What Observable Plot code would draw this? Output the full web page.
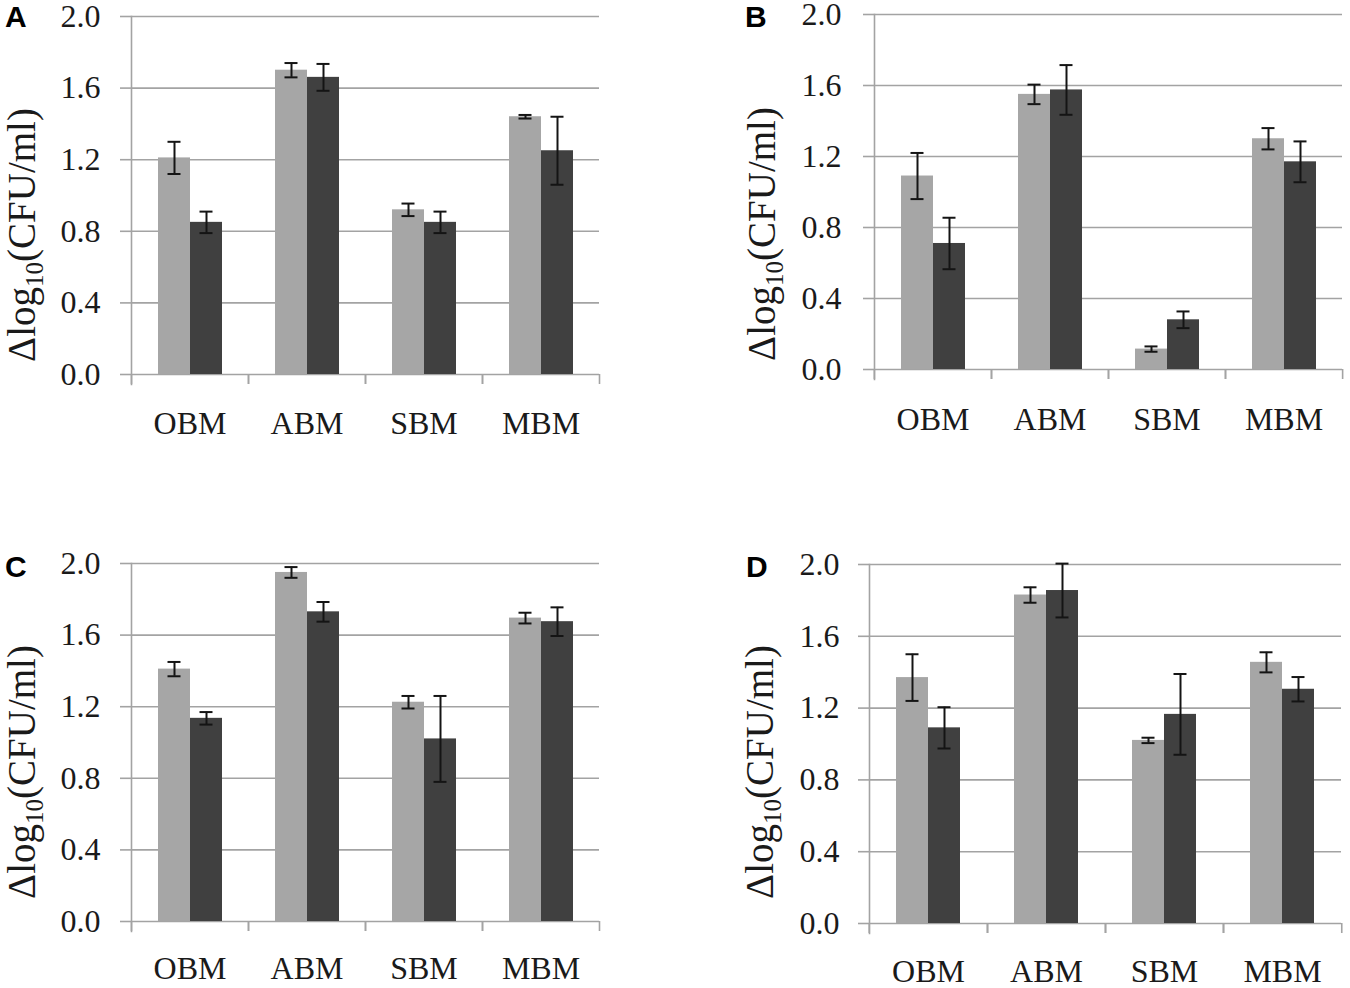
<!DOCTYPE html>
<html>
<head>
<meta charset="utf-8">
<script src="https://cdn.jsdelivr.net/npm/d3@7"></script>
<script src="https://cdn.jsdelivr.net/npm/@observablehq/plot@0.6"></script>
<style>
  html, body { margin: 0; padding: 0; background: #ffffff; }
  #root { position: relative; width: 1350px; height: 988px; overflow: hidden; background: #fff; }
  #root > svg { position: absolute; }
</style>
</head>
<body>
<div id="root"></div>
<script>
// ---- data ----
const categories = ["OBM", "ABM", "SBM", "MBM"];
const series = ["series1", "series2"];
const yTicks = [0, 0.4, 0.8, 1.2, 1.6, 2.0];
const panelLetters = ["A", "B", "C", "D"];

const lightA = [1.21, 1.70, 0.92, 1.44];
const lightErrA = [0.09, 0.04, 0.035, 0.01];
const darkA = [0.85, 1.66, 0.85, 1.25];
const darkErrA = [0.06, 0.075, 0.06, 0.19];

const lightB = [1.09, 1.55, 0.115, 1.30];
const lightErrB = [0.13, 0.055, 0.015, 0.06];
const darkB = [0.71, 1.575, 0.28, 1.17];
const darkErrB = [0.145, 0.14, 0.047, 0.115];

const lightC = [1.41, 1.95, 1.225, 1.695];
const lightErrC = [0.04, 0.03, 0.035, 0.03];
const darkC = [1.135, 1.73, 1.02, 1.675];
const darkErrC = [0.035, 0.055, 0.24, 0.08];

const lightD = [1.37, 1.83, 1.02, 1.455];
const lightErrD = [0.13, 0.043, 0.015, 0.056];
const darkD = [1.09, 1.855, 1.165, 1.305];
const darkErrD = [0.115, 0.15, 0.225, 0.068];

// ---- styles ----
const gridColor = "#a3a3a3";
const textColor = "#1a1a1a";
const errColor = "#141414";
const barColors = ["#a6a6a6", "#404040"];
const serif = "'Liberation Serif', 'Times New Roman', serif";

const layouts = [
  {left: 0,   top: 0,   width: 620, height: 460, ml: 131, mr: 21, mt: 16, mb: 86, tp: 20, lp: 37,
   light: lightA, lightErr: lightErrA, dark: darkA, darkErr: darkErrA},
  {left: 740, top: 0,   width: 610, height: 460, ml: 133, mr: 8,  mt: 14, mb: 91, tp: 22, lp: 38,
   light: lightB, lightErr: lightErrB, dark: darkB, darkErr: darkErrB},
  {left: 0,   top: 540, width: 620, height: 448, ml: 131, mr: 21, mt: 23, mb: 67, tp: 20, lp: 35,
   light: lightC, lightErr: lightErrC, dark: darkC, darkErr: darkErrC},
  {left: 740, top: 540, width: 610, height: 448, ml: 128, mr: 8,  mt: 24, mb: 65, tp: 19, lp: 36,
   light: lightD, lightErr: lightErrD, dark: darkD, darkErr: darkErrD}
];

const root = document.getElementById("root");

function makePanel(cfg) {
  const rows = categories.flatMap((c, i) => [
    {cat: c, series: series[0], value: cfg.light[i], err: cfg.lightErr[i]},
    {cat: c, series: series[1], value: cfg.dark[i], err: cfg.darkErr[i]}
  ]);
  const band = (cfg.width - cfg.ml - cfg.mr) / categories.length;
  const lo = d => d.value - d.err;
  const hi = d => d.value + d.err;
  const svg = Plot.plot({
    width: cfg.width,
    height: cfg.height,
    marginLeft: cfg.ml,
    marginRight: cfg.mr,
    marginTop: cfg.mt,
    marginBottom: cfg.mb,
    style: {background: "transparent", fontFamily: serif, fontSize: "32px", color: textColor, overflow: "visible"},
    fx: {domain: categories, padding: 0, label: null},
    x: {domain: series, paddingInner: 0, paddingOuter: 0.8, axis: null},
    y: {domain: [0, 2], label: null},
    color: {domain: series, range: barColors},
    marks: [
      Plot.gridY(yTicks, {stroke: gridColor, strokeOpacity: 1, strokeWidth: 1.6}),
      Plot.axisY(yTicks, {tickSize: 11, tickPadding: cfg.tp, tickFormat: d3.format(".1f"),
        stroke: gridColor, strokeOpacity: 1, strokeWidth: 1.6, fontSize: 32, label: null}),
      Plot.frame({anchor: "left", facetAnchor: "left", stroke: gridColor, strokeWidth: 1.6, insetBottom: -10}),
      Plot.axisFx({anchor: "bottom", tickSize: 10, tickFormat: () => "", dx: -band / 2,
        stroke: gridColor, strokeOpacity: 1, strokeWidth: 1.6, label: null}),
      Plot.axisFx({anchor: "bottom", tickSize: 10, tickFormat: () => "", dx: band / 2,
        stroke: gridColor, strokeOpacity: 1, strokeWidth: 1.6, label: null}),
      Plot.axisFx({anchor: "bottom", tickSize: 0, tickPadding: cfg.lp, fontSize: 32, label: null}),
      Plot.barY(rows, {fx: "cat", x: "series", y: "value", fill: "series"}),
      Plot.ruleX(rows, {fx: "cat", x: "series", y1: lo, y2: hi, stroke: errColor, strokeWidth: 2}),
      Plot.tickY(rows, {fx: "cat", x: "series", y: lo, insetLeft: 9.5, insetRight: 9.5, stroke: errColor, strokeWidth: 2}),
      Plot.tickY(rows, {fx: "cat", x: "series", y: hi, insetLeft: 9.5, insetRight: 9.5, stroke: errColor, strokeWidth: 2})
    ]
  });
  svg.style.left = cfg.left + "px";
  svg.style.top = cfg.top + "px";
  root.appendChild(svg);
}

layouts.forEach(makePanel);

// ---- panel letters and y-axis titles (overlay) ----
const overlay = d3.select(root).append("svg")
  .attr("width", 1350).attr("height", 988)
  .style("left", "0px").style("top", "0px")
  .style("pointer-events", "none");

const letterPos = [[5, 27], [745, 27], [5, 577], [746, 577]];
const titlePos = [[35, 235], [775, 234], [35, 772], [773, 772]];

panelLetters.forEach((L, i) => {
  overlay.append("text")
    .attr("x", letterPos[i][0]).attr("y", letterPos[i][1])
    .attr("font-family", "'Liberation Sans', Arial, sans-serif")
    .attr("font-weight", "bold").attr("font-size", 30)
    .attr("fill", "#000")
    .text(L);
  const t = overlay.append("text")
    .attr("transform", `translate(${titlePos[i][0]},${titlePos[i][1]}) rotate(-90)`)
    .attr("text-anchor", "middle")
    .attr("font-family", serif)
    .attr("font-size", 39)
    .attr("fill", textColor);
  t.append("tspan").text("Δlog");
  t.append("tspan").attr("font-size", 25).attr("dy", 8).text("10");
  t.append("tspan").attr("dy", -8).text("(CFU/ml)");
});
</script>
</body>
</html>
